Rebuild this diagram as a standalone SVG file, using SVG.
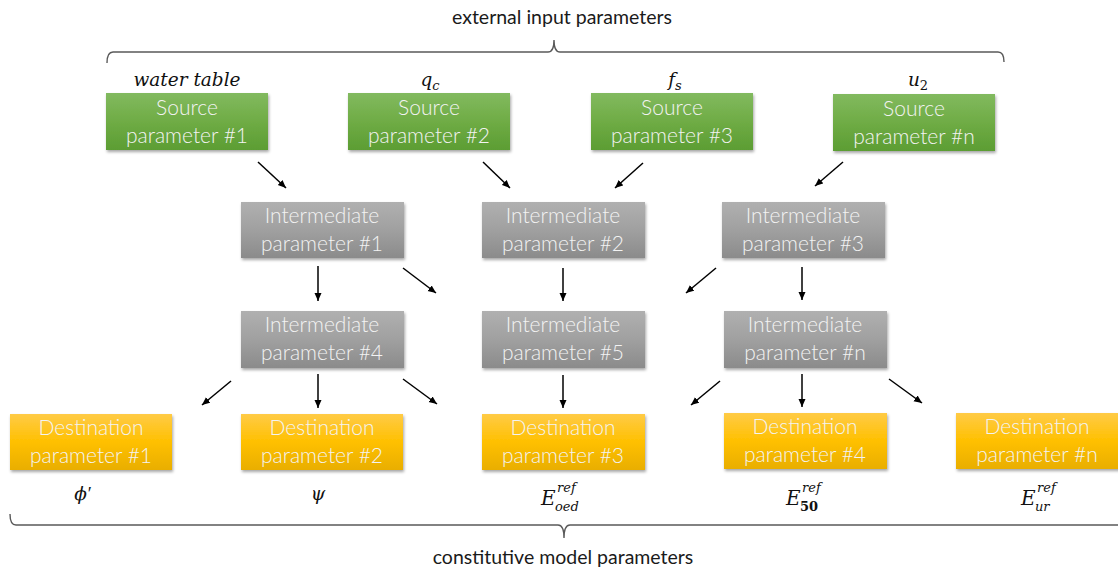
<svg xmlns="http://www.w3.org/2000/svg" width="1118" height="569" viewBox="0 0 1118 569">
  <defs>
    <linearGradient id="gGreen" x1="0" y1="0" x2="0" y2="1">
      <stop offset="0" stop-color="#82ba5f"/>
      <stop offset="0.5" stop-color="#6fac45"/>
      <stop offset="1" stop-color="#5c9d33"/>
    </linearGradient>
    <linearGradient id="gGray" x1="0" y1="0" x2="0" y2="1">
      <stop offset="0" stop-color="#b0b0b0"/>
      <stop offset="0.5" stop-color="#a0a0a0"/>
      <stop offset="1" stop-color="#8b8b8b"/>
    </linearGradient>
    <linearGradient id="gGold" x1="0" y1="0" x2="0" y2="1">
      <stop offset="0" stop-color="#ffcb47"/>
      <stop offset="0.5" stop-color="#ffc000"/>
      <stop offset="1" stop-color="#e9ae00"/>
    </linearGradient>
    <filter id="shadow" x="-10%" y="-10%" width="120%" height="130%">
      <feDropShadow dx="1" dy="2" stdDeviation="1.4" flood-color="#000" flood-opacity="0.35"/>
    </filter>
    <marker id="arrow" markerUnits="userSpaceOnUse" markerWidth="9" markerHeight="8" refX="8" refY="4" orient="auto">
      <path d="M0,0.5 L8,4 L0,7.5 z" fill="#000"/>
    </marker>
  </defs>
  <style>
    .box { filter: url(#shadow); }
    .src { fill: url(#gGreen); }
    .mid { fill: url(#gGray); }
    .dst { fill: url(#gGold); }
    .lbl { font-family: Lato, "Open Sans", "Liberation Sans", sans-serif; font-weight: 300; font-size: 21px; fill: #f3f3f3; text-anchor: middle; }
    .math { font-family: "DejaVu Serif", "Liberation Serif", serif; font-style: italic; font-size: 18.5px; fill: #111; text-anchor: middle; }
    .sym { font-family: "DejaVu Serif", "Liberation Serif", serif; font-style: italic; font-size: 20px; fill: #111; }
    .idx { font-family: "DejaVu Serif", "Liberation Serif", serif; font-style: italic; font-size: 13px; fill: #111; }
    .sm { font-size: 13px; }
    .up { font-style: normal; }
    .cap { font-family: Lato, "Open Sans", "Liberation Sans", sans-serif; font-size: 19.5px; fill: #1a1a1a; text-anchor: middle; }
    .brace { fill: none; stroke: #595959; stroke-width: 1.4; }
    .conn line { stroke: #000; stroke-width: 1.5; marker-end: url(#arrow); }
  </style>

  <rect width="1118" height="569" fill="#fff"/>

  <!-- top brace: external inputs -->
  <text class="cap" x="562" y="24">external input parameters</text>
  <path class="brace" d="M107,63 Q107,52 113,52 L548,52 Q554,52 554,40 Q554,52 560,52 L998,52 Q1004,52 1004,62"/>

  <!-- source parameters -->
  <g id="src1">
    <text class="math" x="187" y="86">water table</text>
    <rect class="box src" x="106" y="93" width="162" height="57"/>
    <text class="lbl" x="187" y="115">Source</text>
    <text class="lbl" x="187" y="143">parameter #1</text>
  </g>
  <g id="src2">
    <text class="math" x="430" y="86">q<tspan class="sm" dy="4">c</tspan></text>
    <rect class="box src" x="348" y="93" width="162" height="57"/>
    <text class="lbl" x="429" y="115">Source</text>
    <text class="lbl" x="429" y="143">parameter #2</text>
  </g>
  <g id="src3">
    <text class="math" x="675" y="86">f<tspan class="sm" dy="4">s</tspan></text>
    <rect class="box src" x="591" y="93" width="162" height="57"/>
    <text class="lbl" x="672" y="115">Source</text>
    <text class="lbl" x="672" y="143">parameter #3</text>
  </g>
  <g id="srcN">
    <text class="math" x="918" y="86">u<tspan class="sm up" dy="4">2</tspan></text>
    <rect class="box src" x="833" y="94" width="162" height="57"/>
    <text class="lbl" x="914" y="116">Source</text>
    <text class="lbl" x="914" y="144">parameter #n</text>
  </g>

  <!-- intermediate parameters -->
  <g id="mid1">
    <rect class="box mid" x="241" y="202" width="163" height="56"/>
    <text class="lbl" x="322" y="223">Intermediate</text>
    <text class="lbl" x="322" y="251">parameter #1</text>
  </g>
  <g id="mid2">
    <rect class="box mid" x="482" y="202" width="163" height="56"/>
    <text class="lbl" x="563" y="223">Intermediate</text>
    <text class="lbl" x="563" y="251">parameter #2</text>
  </g>
  <g id="mid3">
    <rect class="box mid" x="722" y="202" width="163" height="56"/>
    <text class="lbl" x="803" y="223">Intermediate</text>
    <text class="lbl" x="803" y="251">parameter #3</text>
  </g>
  <g id="mid4">
    <rect class="box mid" x="241" y="311" width="163" height="57"/>
    <text class="lbl" x="322" y="332">Intermediate</text>
    <text class="lbl" x="322" y="360">parameter #4</text>
  </g>
  <g id="mid5">
    <rect class="box mid" x="482" y="311" width="163" height="57"/>
    <text class="lbl" x="563" y="332">Intermediate</text>
    <text class="lbl" x="563" y="360">parameter #5</text>
  </g>
  <g id="midN">
    <rect class="box mid" x="724" y="311" width="163" height="57"/>
    <text class="lbl" x="805" y="332">Intermediate</text>
    <text class="lbl" x="805" y="360">parameter #n</text>
  </g>

  <!-- destination parameters -->
  <g id="dst1">
    <rect class="box dst" x="10" y="414" width="162" height="56"/>
    <text class="lbl" x="91" y="435">Destination</text>
    <text class="lbl" x="91" y="463">parameter #1</text>
    <text class="math" x="83" y="500">ϕ<tspan class="up" font-family="'Liberation Serif', serif" dx="1">′</tspan></text>
  </g>
  <g id="dst2">
    <rect class="box dst" x="241" y="414" width="162" height="56"/>
    <text class="lbl" x="322" y="435">Destination</text>
    <text class="lbl" x="322" y="463">parameter #2</text>
    <text class="math" x="318" y="500">ψ</text>
  </g>
  <g id="dst3">
    <rect class="box dst" x="482" y="414" width="163" height="56"/>
    <text class="lbl" x="563" y="435">Destination</text>
    <text class="lbl" x="563" y="463">parameter #3</text>
    <text class="sym" x="541" y="505">E</text>
    <text class="idx" x="557" y="492">ref</text>
    <text class="idx" x="555" y="511">oed</text>
  </g>
  <g id="dst4">
    <rect class="box dst" x="724" y="413" width="163" height="56"/>
    <text class="lbl" x="805" y="434">Destination</text>
    <text class="lbl" x="805" y="462">parameter #4</text>
    <text class="sym" x="786" y="505">E</text>
    <text class="idx" x="802" y="492">ref</text>
    <text class="idx up" x="800" y="511" font-weight="600">50</text>
  </g>
  <g id="dstN">
    <rect class="box dst" x="956" y="413" width="164" height="56"/>
    <text class="lbl" x="1037" y="434">Destination</text>
    <text class="lbl" x="1037" y="462">parameter #n</text>
    <text class="sym" x="1021" y="505">E</text>
    <text class="idx" x="1037" y="492">ref</text>
    <text class="idx" x="1035" y="511">ur</text>
  </g>

  <!-- bottom brace: model parameters -->
  <path class="brace" d="M10,514 Q10,525 16,525 L558,525 Q564,525 564,538 Q564,525 570,525 L1118,525"/>
  <text class="cap" x="563" y="564">constitutive model parameters</text>

  <!-- connectors -->
  <g class="conn" id="connectors">
    <line x1="258" y1="162" x2="286" y2="188"/>
    <line x1="483" y1="162" x2="510" y2="188"/>
    <line x1="643" y1="163" x2="615" y2="188"/>
    <line x1="843" y1="162" x2="815" y2="186"/>

    <line x1="318" y1="266" x2="318" y2="301"/>
    <line x1="403" y1="268" x2="436" y2="293"/>
    <line x1="563" y1="268" x2="563" y2="301"/>
    <line x1="716" y1="268" x2="686" y2="293"/>
    <line x1="802" y1="267" x2="802" y2="300"/>

    <line x1="231" y1="381" x2="202" y2="405"/>
    <line x1="318" y1="374" x2="318" y2="408"/>
    <line x1="403" y1="379" x2="437" y2="404"/>
    <line x1="563" y1="375" x2="563" y2="408"/>
    <line x1="720" y1="381" x2="691" y2="405"/>
    <line x1="802" y1="374" x2="802" y2="407"/>
    <line x1="889" y1="379" x2="922" y2="403"/>
  </g>
</svg>
